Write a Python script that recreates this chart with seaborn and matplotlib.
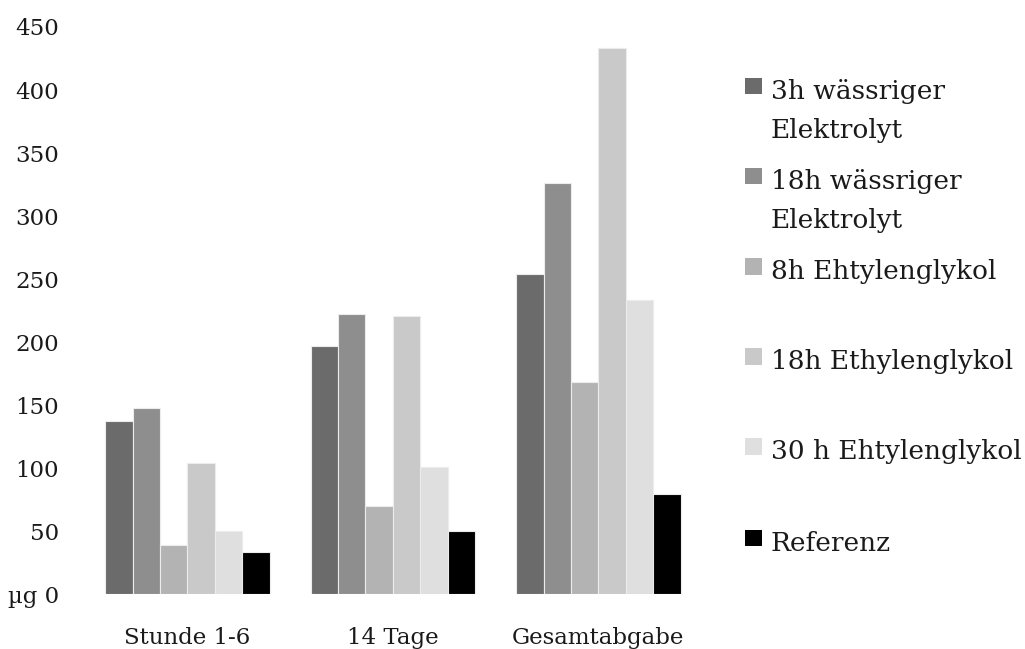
import matplotlib
matplotlib.use("Agg")
import matplotlib.pyplot as plt
import seaborn as sns
import pandas as pd
from matplotlib.patches import Rectangle

categories = ["Stunde 1-6", "14 Tage", "Gesamtabgabe"]
series = ["3h wässriger\nElektrolyt", "18h wässriger\nElektrolyt", "8h Ehtylenglykol",
          "18h Ethylenglykol", "30 h Ehtylenglykol", "Referenz"]
values = {
    series[0]: [137, 197, 254],
    series[1]: [148, 222, 326],
    series[2]: [39, 70, 168],
    series[3]: [104, 221, 433],
    series[4]: [50, 101, 233],
    series[5]: [33, 50, 79],
}
colors = ["#6b6b6b", "#8e8e8e", "#b3b3b3", "#c9c9c9", "#dfdfdf", "#000000"]
yticks = [0, 50, 100, 150, 200, 250, 300, 350, 400, 450]
ytick_labels = ["µg 0", "50", "100", "150", "200", "250", "300", "350", "400", "450"]

rows = [(c, s, v) for s in series for c, v in zip(categories, values[s])]
df = pd.DataFrame(rows, columns=["Kategorie", "Serie", "Wert"])

sns.set_theme(style="white")
plt.rcParams["font.family"] = ["DejaVu Serif"]

fig = plt.figure(figsize=(10.25, 6.49), dpi=100)
ax = fig.add_axes([0.0826, 0.0847, 0.6014, 0.8737])

sns.barplot(data=df, x="Kategorie", y="Wert", hue="Serie", order=categories,
            hue_order=series, palette=colors, width=0.8, gap=0,
            edgecolor="#ececec", linewidth=0.8, ax=ax, legend=False)

ax.set_xlim(-0.5, 2.5)
ax.set_ylim(0, 450)
ax.set_yticks(yticks)
ax.set_yticklabels(ytick_labels)
ax.set_xlabel("")
ax.set_ylabel("")
for sp in ax.spines.values():
    sp.set_visible(False)
ax.tick_params(axis="y", length=0, pad=18.5, labelsize=16.5, colors="#1a1a1a")
ax.tick_params(axis="x", length=0, pad=23.5, labelsize=16.5, colors="#1a1a1a")

# Legend: square swatch, first text line's cap height level with the swatch
W, H = 1025, 649
swatch_center = [86, 176, 266.5, 356.5, 446.5, 538]
line_gap = 39
for lab, col, yc in zip(series, colors, swatch_center):
    fig.patches.append(Rectangle((745 / W, 1 - (yc + 8.3) / H), 16.7 / W, 16.7 / H,
                                 transform=fig.transFigure, facecolor=col,
                                 edgecolor="none"))
    for i, line in enumerate(lab.split("\n")):
        fig.text(771 / W, 1 - (yc + 13 + i * line_gap) / H, line, ha="left",
                 va="baseline", fontsize=19, color="#1a1a1a")

fig.savefig("out.png", dpi=100)
